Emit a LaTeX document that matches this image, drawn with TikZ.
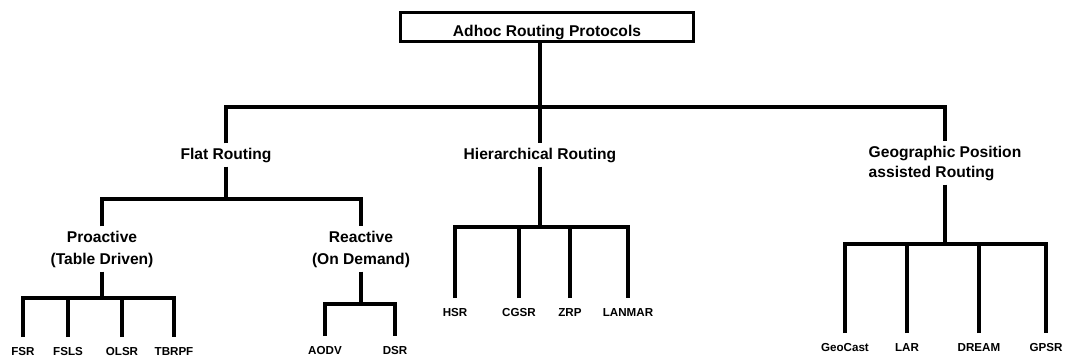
\documentclass[tikz,border=0pt]{standalone}
\usepackage{fontspec}
\setmainfont{Liberation Sans}
\usetikzlibrary{positioning, calc}

\tikzstyle{rootbox} = [rectangle, draw, line width=2.5pt, minimum width=220pt, minimum height=21.75pt, text height=14.4pt, text depth=0pt, font=\fontsize{11.7}{14}\selectfont\bfseries]
\tikzstyle{group} = [align=center, inner sep=3pt, font=\fontsize{11.7}{16.5}\selectfont\bfseries]
\tikzstyle{leaf} = [inner xsep=2pt, inner ysep=7pt, text height=6.3pt, text depth=0pt, font=\fontsize{8.7}{10}\selectfont\bfseries]
\tikzstyle{line} = [draw, line width=2.5pt]

\begin{document}
\begin{tikzpicture}[x=0.75pt, y=-0.75pt]
        \useasboundingbox (0,0) rectangle (1067,358);

        % Top levels
        \node [rootbox] (root) at (547,27) {Adhoc Routing Protocols};
        \node [group] (flat) at (226,155) {Flat Routing};
        \node [group] (hier) at (540,155) {Hierarchical Routing};
        \node [group, align=left, font=\fontsize{11.7}{15}\selectfont\bfseries] (geo) at (945,163) {Geographic Position\\assisted Routing};
        \node [group] (pro) at (102,249) {Proactive\\(Table Driven)};
        \node [group] (rea) at (361,249) {Reactive\\(On Demand)};

        % Protocols
        \node [leaf] (fsr) at (23,351) {FSR};
        \node [leaf] (fsls) at (68,351) {FSLS};
        \node [leaf] (olsr) at (122,351) {OLSR};
        \node [leaf] (tbrpf) at (174,351) {TBRPF};
        \node [leaf] (aodv) at (325,350) {AODV};
        \node [leaf] (dsr) at (395,350) {DSR};
        \node [leaf] (hsr) at (455,312) {HSR};
        \node [leaf] (cgsr) at (519,312) {CGSR};
        \node [leaf] (zrp) at (570,312) {ZRP};
        \node [leaf] (lanmar) at (628,312) {LANMAR};
        \node [leaf] (geocast) at (845,347) {GeoCast};
        \node [leaf] (lar) at (907,347) {LAR};
        \node [leaf] (dream) at (979,347) {DREAM};
        \node [leaf] (gpsr) at (1046,347) {GPSR};

        % Bus lines
        \coordinate (busmain) at (540,107);
        \coordinate (busflat) at (226,199);
        \coordinate (buspro) at (102,298);
        \coordinate (busrea) at (361,304);
        \coordinate (bushier) at (540,227);
        \coordinate (busgeo) at (945,244);

        % Edges
        \path [line] (root.south -| hier) -- (hier.north);
        \path [line] (flat.north) |- (busmain) -| (geo.north);
        \path [line] (flat.south) -- (busflat);
        \path [line] (pro.north) |- (busflat) -| (rea.north);
        \path [line] (pro.south) -- (buspro);
        \path [line] (fsr.north) |- (buspro) -| (tbrpf.north);
        \path [line] (rea.south) -- (busrea);
        \path [line] (aodv.north) |- (busrea) -| (dsr.north);
        \path [line] (hier.south) -- (bushier);
        \path [line] (hsr.north) |- (bushier) -| (lanmar.north);
        \path [line] (geo.south) -- (busgeo);
        \path [line] (geocast.north) |- (busgeo) -| (gpsr.north);
        \foreach \n/\b in {fsls/buspro, olsr/buspro, cgsr/bushier, zrp/bushier, lar/busgeo, dream/busgeo}
            \path [line] (\n.north) -- (\n.north |- \b);
    \end{tikzpicture}
\end{document}
